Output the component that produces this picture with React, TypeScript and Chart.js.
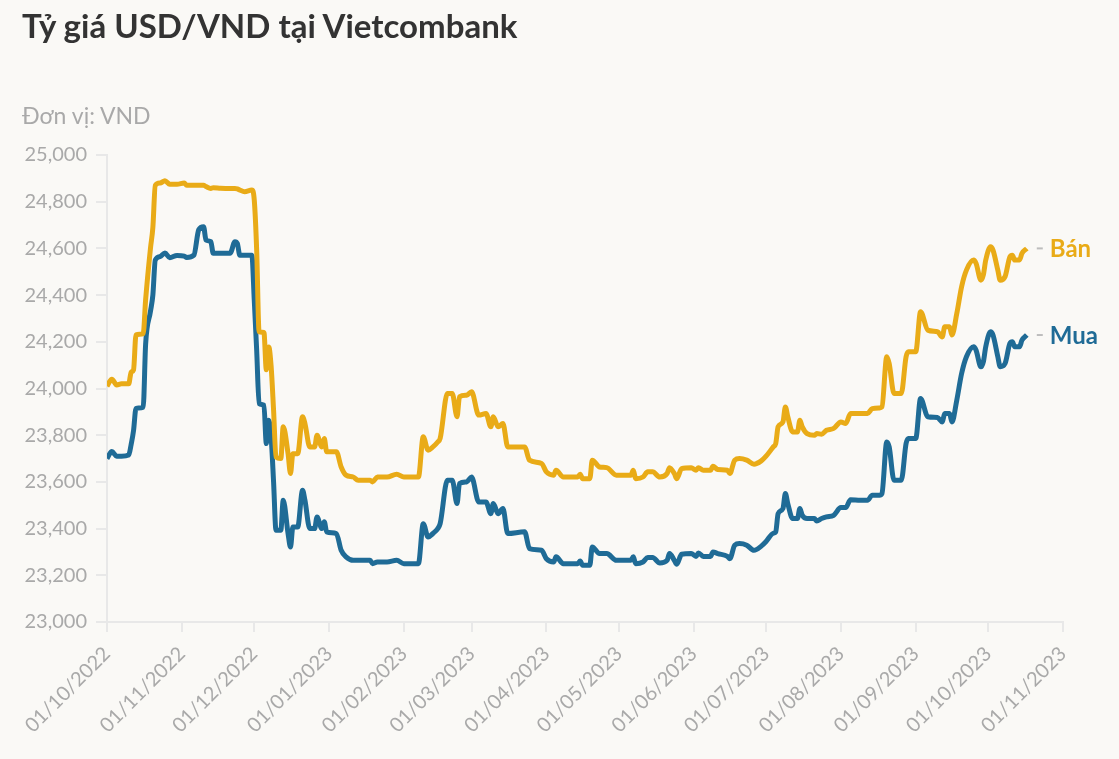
import React, { useEffect, useRef } from "react";
import { Chart, registerables } from "chart.js";

Chart.register(...registerables);

// Days since 01/10/2022
const START_DATE = "2022-10-01";
const dayOffsets = [
  0, 2, 4, 6, 9, 10, 11, 12, 15, 16,
  18, 19, 20, 22, 24, 26, 29, 32, 33, 36,
  38, 40, 41, 43, 44, 47, 51, 53, 54, 55,
  57, 60, 61, 62, 63, 65, 66, 67, 68, 69,
  70, 72, 73, 75, 76, 77, 79, 81, 82, 84,
  86, 87, 89, 90, 91, 95, 97, 99, 102, 104,
  109, 110, 112, 116, 120, 123, 129, 131, 133, 135,
  137, 138, 141, 143, 145, 146, 149, 151, 154, 157,
  159, 160, 162, 164, 166, 173, 175, 180, 182, 185,
  186, 189, 195, 196, 197, 200, 201, 204, 207, 211,
  217, 218, 219, 222, 224, 226, 229, 232, 233, 235,
  236, 238, 242, 244, 245, 247, 250, 251, 253, 257,
  258, 260, 262, 265, 268, 271, 273, 276, 277, 278,
  280, 281, 282, 284, 286, 287, 288, 290, 293, 294,
  296, 298, 301, 304, 306, 308, 312, 315, 317, 320,
  321, 323, 324, 326, 329, 331, 332, 335, 337, 340,
  344, 346, 347, 349, 350, 352, 354, 356, 359, 360,
  362, 363, 364, 366, 367, 369, 370, 372, 374, 375,
  376, 378, 379, 381,
];

// Giá bán
const sellRates = [
  24010, 24040, 24015, 24020, 24020, 24070, 24080, 24230, 24235, 24380,
  24600, 24690, 24870, 24880, 24890, 24875, 24875, 24880, 24870, 24870,
  24870, 24870, 24865, 24857, 24860, 24858, 24857, 24857, 24855, 24850,
  24843, 24850, 24807, 24593, 24243, 24240, 24080, 24178, 24093, 23907,
  23707, 23700, 23836, 23721, 23636, 23721, 23721, 23879, 23850, 23750,
  23750, 23800, 23750, 23786, 23729, 23729, 23664, 23629, 23621, 23607,
  23607, 23600, 23621, 23621, 23633, 23621, 23621, 23793, 23736, 23750,
  23771, 23786, 23979, 23979, 23879, 23964, 23971, 23986, 23886, 23893,
  23836, 23879, 23836, 23850, 23750, 23750, 23693, 23679, 23643, 23629,
  23650, 23621, 23621, 23633, 23614, 23614, 23693, 23664, 23661, 23629,
  23629, 23650, 23614, 23621, 23643, 23643, 23621, 23636, 23661, 23636,
  23614, 23657, 23661, 23650, 23661, 23650, 23650, 23667, 23653, 23650,
  23636, 23693, 23700, 23693, 23676, 23690, 23710, 23750, 23764, 23836,
  23857, 23921, 23879, 23814, 23814, 23864, 23836, 23807, 23800, 23807,
  23804, 23821, 23829, 23857, 23850, 23893, 23893, 23893, 23914, 23917,
  23921, 24136, 24107, 23979, 23979, 24136, 24157, 24157, 24329, 24250,
  24243, 24221, 24264, 24264, 24229, 24321, 24436, 24507, 24550, 24536,
  24464, 24486, 24550, 24607, 24593, 24507, 24464, 24479, 24564, 24571,
  24550, 24550, 24579, 24600,
];

// Giá mua
const buyRates = [
  23700, 23730, 23710, 23710, 23715, 23760, 23820, 23915, 23920, 24190,
  24330, 24400, 24550, 24565, 24580, 24560, 24570, 24567, 24561, 24571,
  24680, 24693, 24636, 24629, 24579, 24579, 24579, 24629, 24621, 24571,
  24571, 24571, 24379, 24164, 23936, 23929, 23764, 23864, 23790, 23600,
  23393, 23393, 23521, 23379, 23321, 23407, 23407, 23564, 23521, 23400,
  23400, 23450, 23400, 23429, 23386, 23379, 23307, 23279, 23264, 23264,
  23264, 23250, 23257, 23257, 23264, 23250, 23250, 23421, 23364, 23379,
  23400, 23421, 23607, 23607, 23507, 23593, 23600, 23621, 23514, 23514,
  23464, 23507, 23464, 23486, 23379, 23386, 23314, 23307, 23271, 23257,
  23279, 23250, 23250, 23261, 23243, 23243, 23321, 23293, 23293, 23264,
  23264, 23279, 23250, 23257, 23276, 23276, 23253, 23264, 23293, 23264,
  23247, 23290, 23293, 23281, 23296, 23281, 23281, 23300, 23293, 23281,
  23271, 23329, 23336, 23329, 23307, 23325, 23345, 23380, 23386, 23464,
  23486, 23550, 23507, 23443, 23443, 23486, 23457, 23443, 23443, 23433,
  23443, 23450, 23457, 23490, 23490, 23524, 23521, 23521, 23543, 23543,
  23550, 23771, 23750, 23607, 23607, 23764, 23786, 23786, 23957, 23879,
  23876, 23857, 23893, 23893, 23857, 23950, 24064, 24136, 24179, 24164,
  24093, 24114, 24179, 24243, 24229, 24136, 24093, 24107, 24193, 24200,
  24179, 24179, 24207, 24229,
];

const monthTickLabels = [
  "01/10/2022", "01/11/2022", "01/12/2022", "01/01/2023", "01/02/2023",
  "01/03/2023", "01/04/2023", "01/05/2023", "01/06/2023", "01/07/2023",
  "01/08/2023", "01/09/2023", "01/10/2023", "01/11/2023",
];

const Y_MIN = 23000;
const Y_MAX = 25000;
const Y_STEP = 200;

const SERIES_NAMES = ["Bán", "Mua"];
const TITLE = "Tỷ giá USD/VND tại Vietcombank";
const SUBTITLE = "Đơn vị: VND";

const COLOR_SELL = "#e9ab17";
const COLOR_BUY = "#1f6b96";
const BG = "#faf9f6";
const AXIS = "#e8e8e8";
const MUTED = "#a9a9a9";
const FONT = "Lato, 'Noto Sans', sans-serif";

const dayMs = 86400000;
const parseDmy = (s: string) => {
  const [d, m, y] = s.split("/").map(Number);
  return Date.UTC(y, m - 1, d);
};
const startMs = (() => {
  const [y, m, d] = START_DATE.split("-").map(Number);
  return Date.UTC(y, m - 1, d);
})();
const tickDays = monthTickLabels.map((l) => Math.round((parseDmy(l) - startMs) / dayMs));

const endLabelPlugin = {
  id: "endLabels",
  afterDatasetsDraw(chart: any) {
    const ctx = chart.ctx;
    chart.data.datasets.forEach((ds: any, i: number) => {
      const meta = chart.getDatasetMeta(i);
      const pt = meta.data[meta.data.length - 1];
      if (!pt) return;
      ctx.save();
      ctx.strokeStyle = "#bdbdbd";
      ctx.lineWidth = 2;
      ctx.beginPath();
      ctx.moveTo(pt.x + 10, pt.y);
      ctx.lineTo(pt.x + 16, pt.y);
      ctx.stroke();
      ctx.font = `bold 24px ${FONT}`;
      ctx.fillStyle = ds.borderColor;
      ctx.textAlign = "left";
      ctx.textBaseline = "middle";
      ctx.fillText(ds.label, pt.x + 23, pt.y + 1);
      ctx.restore();
    });
  },
};

export default function App() {
  const canvasRef = useRef<HTMLCanvasElement | null>(null);

  useEffect(() => {
    if (!canvasRef.current) return;
    const chart = new Chart(canvasRef.current, {
      type: "line",
      data: {
        datasets: [
          {
            label: SERIES_NAMES[0],
            data: dayOffsets.map((d, i) => ({ x: d, y: sellRates[i] })),
            borderColor: COLOR_SELL,
            backgroundColor: COLOR_SELL,
            borderWidth: 5,
            pointRadius: 0,
            cubicInterpolationMode: "monotone",
            fill: false,
          },
          {
            label: SERIES_NAMES[1],
            data: dayOffsets.map((d, i) => ({ x: d, y: buyRates[i] })),
            borderColor: COLOR_BUY,
            backgroundColor: COLOR_BUY,
            borderWidth: 5,
            pointRadius: 0,
            cubicInterpolationMode: "monotone",
            fill: false,
          },
        ],
      },
      options: {
        responsive: false,
        animation: false,
        events: [],
        layout: { padding: { left: 0, top: 155, right: 56, bottom: 0 } },
        plugins: {
          legend: { display: false },
          tooltip: { enabled: false },
          title: { display: false },
        },
        scales: {
          x: {
            type: "linear",
            min: tickDays[0],
            max: tickDays[tickDays.length - 1],
            afterBuildTicks: (scale: any) => {
              scale.ticks = tickDays.map((v) => ({ value: v }));
            },
            afterFit: (scale: any) => {
              scale.height = 137;
            },
            grid: {
              drawOnChartArea: false,
              drawTicks: true,
              tickLength: 10,
              color: AXIS,
              lineWidth: 2,
            },
            border: { display: true, color: AXIS, width: 2 },
            ticks: {
              autoSkip: false,
              maxRotation: 45,
              minRotation: 45,
              padding: 10,
              color: MUTED,
              font: { family: FONT, size: 20 },
              callback: (_v: any, i: number) => monthTickLabels[i],
            },
          },
          y: {
            min: Y_MIN,
            max: Y_MAX,
            afterFit: (scale: any) => {
              scale.width = 107;
            },
            grid: {
              drawOnChartArea: false,
              drawTicks: true,
              tickLength: 11,
              color: AXIS,
              lineWidth: 2,
            },
            border: { display: true, color: AXIS, width: 2 },
            ticks: {
              stepSize: Y_STEP,
              padding: 9,
              color: MUTED,
              font: { family: FONT, size: 20 },
              callback: (v: any) => Number(v).toLocaleString("en-US"),
            },
          },
        },
      },
      plugins: [endLabelPlugin],
    } as any);
    return () => chart.destroy();
  }, []);

  return (
    <div
      style={{
        position: "fixed",
        left: 0,
        top: 0,
        width: 1119,
        height: 759,
        background: BG,
        overflow: "hidden",
      }}
    >
      <canvas
        ref={canvasRef}
        width={1119}
        height={759}
        style={{ position: "absolute", left: 0, top: 0, width: 1119, height: 759 }}
      />
      <div
        style={{
          position: "absolute",
          left: 22,
          top: 9,
          fontFamily: FONT,
          fontWeight: 700,
          fontSize: 33,
          lineHeight: "33px",
          color: "#333333",
          whiteSpace: "nowrap",
        }}
      >
        {TITLE}
      </div>
      <div
        style={{
          position: "absolute",
          left: 22,
          top: 104,
          fontFamily: FONT,
          fontWeight: 400,
          fontSize: 23,
          lineHeight: "23px",
          color: MUTED,
          whiteSpace: "nowrap",
        }}
      >
        {SUBTITLE}
      </div>
    </div>
  );
}
